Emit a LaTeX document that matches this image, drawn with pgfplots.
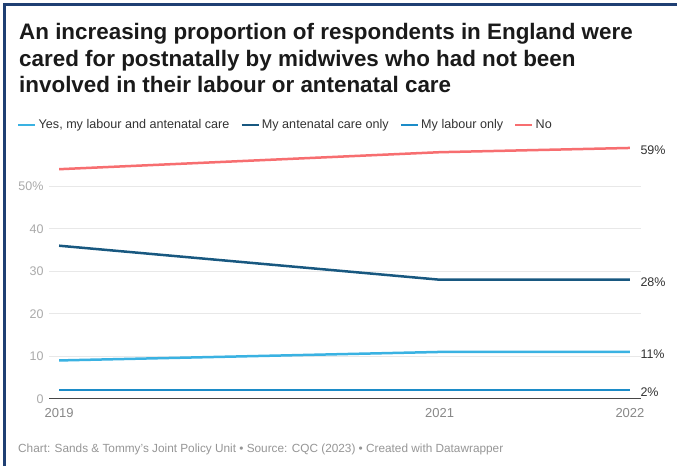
\documentclass[border=0pt]{standalone}
\usepackage{pgfplots}
\pgfplotsset{compat=1.18}
\usepackage{fontspec}
\setmainfont{Liberation Sans}
\definecolor{navy}{RGB}{31,63,115}
\definecolor{cred}{RGB}{247,110,112}
\definecolor{cdark}{RGB}{24,88,128}
\definecolor{clight}{RGB}{58,178,226}
\definecolor{cmid}{RGB}{28,140,200}
\definecolor{ctitle}{RGB}{26,26,26}
\definecolor{ctext}{RGB}{51,51,51}
\definecolor{cytick}{RGB}{170,170,170}
\definecolor{cxtick}{RGB}{136,136,136}
\definecolor{cfoot}{RGB}{150,150,150}
\definecolor{cgrid}{RGB}{232,232,232}
\definecolor{czero}{RGB}{70,70,70}
\begin{document}
\begin{tikzpicture}[x=1pt,y=1pt]
\path[use as bounding box] (0pt,0pt) rectangle (677pt,466pt);
\fill[white] (0pt,0pt) rectangle (677pt,466pt);
\draw[navy, line width=2.6pt] (4.5pt,0pt) -- (4.5pt,461.7pt) -- (677pt,461.7pt);
\begin{scope}[every node/.style={anchor=base west, inner sep=0pt, text=ctitle, font=\fontsize{22.4}{26}\selectfont\bfseries}]
\node at (19pt,426.7pt) {An increasing proportion of respondents in England were};
\node at (19pt,399.7pt) {cared for postnatally by midwives who had not been};
\node at (19pt,373pt) {involved in their labour or antenatal care};
\end{scope}
\node[anchor=base west, inner sep=0pt, text=cfoot, font=\fontsize{11.8}{13}\selectfont] at (18pt,14pt) {Chart: Sands \& Tommy's Joint Policy Unit • Source: CQC (2023) • Created with Datawrapper};
\begin{axis}[
  at={(49pt,67.3pt)}, anchor=south west,
  scale only axis, width=592pt, height=255pt,
  xmin=2018.947, xmax=2022.058, ymin=0, ymax=60,
  axis line style={draw=none}, major tick length=0pt,
  /pgf/number format/assume math mode=true,
  xtick={2019,2021,2022}, xticklabels={2019,2021,2022},
  ytick={10,20,30,40,50}, yticklabels={10,20,30,40,50\%},
  extra y ticks={0}, extra y tick labels={0},
  extra y tick style={grid=major, grid style={draw=czero, line width=1.5pt}},
  ymajorgrids, grid style={draw=cgrid, line width=0.8pt},
  xticklabel style={text=cxtick, font=\fontsize{13}{15}\selectfont, yshift=-6.5pt},
  yticklabel style={text=cytick, font=\fontsize{12.5}{14}\selectfont, xshift=-2pt},
  clip=false,
  legend columns=4,
  legend style={at={(0,1)}, anchor=west, xshift=-32pt, yshift=18.7pt, draw=none, fill=none, inner sep=0pt,
    font=\fontsize{12.6}{14}\selectfont, text=ctext},
  legend image code/.code={\draw[#1, line width=2.5pt] (0pt,0pt) -- (17pt,0pt);},
  every axis plot/.append style={line width=2.5pt, line join=round},
]
\addplot[clight] coordinates {(2019,9) (2021,11) (2022,11)};
\addlegendentry{Yes, my labour and antenatal care\rule{9pt}{0pt}}
\addplot[cdark] coordinates {(2019,36) (2021,28) (2022,28)};
\addlegendentry{My antenatal care only\rule{9pt}{0pt}}
\addplot[cmid] coordinates {(2019,2) (2021,2) (2022,2)};
\addlegendentry{My labour only\rule{9pt}{0pt}}
\addplot[cred] coordinates {(2019,54) (2021,58) (2022,59)};
\addlegendentry{No}
\begin{scope}[every node/.style={anchor=west, text=ctext, font=\fontsize{12.5}{14}\selectfont, xshift=7pt, yshift=-2pt}]
\node at (axis cs:2022,59) {59\%};
\node at (axis cs:2022,28) {28\%};
\node at (axis cs:2022,11) {11\%};
\node at (axis cs:2022,2) {2\%};
\end{scope}
\end{axis}
\end{tikzpicture}
\end{document}
